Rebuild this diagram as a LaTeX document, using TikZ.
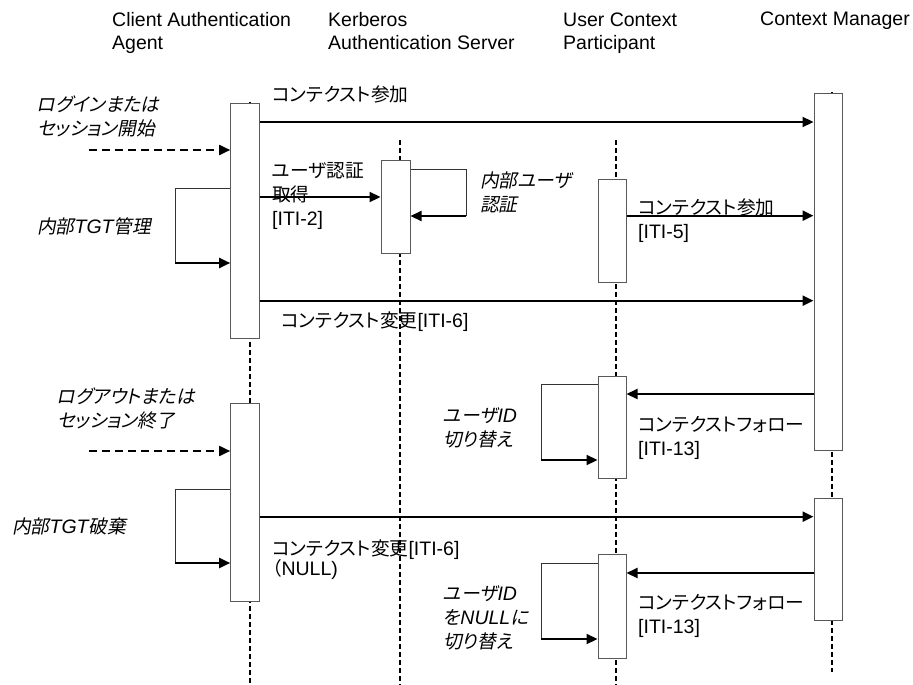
\documentclass[tikz,border=0pt]{standalone}
\usepackage{fontspec}
\setmainfont{Liberation Sans}
\newfontfamily\jpfont[RawFeature=+palt,Scale=0.96]{Noto Sans CJK JP}
\newfontfamily\jpslant[RawFeature=+palt,FakeSlant=0.2,Scale=0.96]{Noto Sans CJK JP}
\newcommand\jtxt[1]{{\jpfont #1}}
\newcommand\jit[1]{{\jpslant #1}}
\usetikzlibrary{arrows.meta}

\begin{document}
\begin{tikzpicture}[x=1pt,y=-1pt,
  lbl/.style={anchor=base west, inner sep=0pt, align=left,
    font=\fontsize{19.5}{24}\selectfont},
  actbox/.style={draw=black!65, line width=1pt, fill=white,
    minimum width=29pt, inner sep=0pt},
  life/.style={line width=1.8pt, dash pattern=on 5pt off 3pt},
  tip/.style={-{Triangle[length=11pt,width=10pt]}},
  msg/.style={line width=2.2pt, tip},
  trigger/.style={line width=1.8pt, dash pattern=on 8pt off 5pt, tip},
  selfline/.style={line width=1pt, draw=black!80},
]
\useasboundingbox (0,0) rectangle (913,685);

% participant headings (base anchor sits on the last line)
\node[lbl] (hcaa) at (112,50) {Client Authentication\\Agent};
\node[lbl] (hker) at (328,50) {Kerberos\\Authentication Server};
\node[lbl] (hucp) at (563,50) {User Context\\Participant};
\node[lbl] (hcm)  at (760,26) {Context Manager};

% lifelines
\coordinate (caaT) at (250,102);  \coordinate (caaB) at (250,683);
\coordinate (kerT) at (400,140);  \coordinate (kerB) at (400,685);
\coordinate (ucpT) at (616,140);  \coordinate (ucpB) at (616,685);
\coordinate (cmT)  at (832,92);   \coordinate (cmB)  at (832,672);
\draw[life] (caaT) -- (caaB);
\draw[life] (kerT) -- (kerB);
\draw[life] (ucpT) -- (ucpB);
\draw[life] (cmT) -- (cmB);

% activation bars
\node[actbox, minimum height=235pt] (caa1) at (245.2,220.5) {};
\node[actbox, minimum height=198pt] (caa2) at (245.2,502) {};
\node[actbox, minimum height=93pt]  (ker1) at (395.5,206.5) {};
\node[actbox, minimum width=28pt, minimum height=103pt] (ucp1) at (612,230.5) {};
\node[actbox, minimum width=28pt, minimum height=102pt] (ucp2) at (612,427) {};
\node[actbox, minimum width=28pt, minimum height=104pt] (ucp3) at (612,606) {};
\node[actbox, minimum width=28pt, minimum height=357pt] (cm1) at (828,271.5) {};
\node[actbox, minimum width=28pt, minimum height=122pt] (cm2) at (828,559) {};

% external triggers
\coordinate (in1) at (89,150);
\coordinate (in2) at (89,451);
\draw[trigger] (in1) -- (caa1.west |- in1);
\draw[trigger] (in2) -- (caa2.west |- in2);

% messages
\draw[msg] (caa1.east |- 0,122) -- (cm1.west |- 0,122);
\draw[msg] (caa1.east |- 0,197) -- (ker1.west |- 0,197);
\draw[msg] (ucp1.east |- 0,215.7) -- (cm1.west |- 0,215.7);
\draw[msg] (caa1.east |- 0,300.7) -- (cm1.west |- 0,300.7);
\draw[msg] (cm1.west |- 0,394) -- (ucp2.east |- 0,394);
\draw[msg] (caa2.east |- 0,516.7) -- (cm2.west |- 0,516.7);
\draw[msg] (cm2.west |- 0,573) -- (ucp3.east |- 0,573);

% self calls
\coordinate (l1) at (175,263);
\draw[selfline] (caa1.west |- 0,188) -| (l1);
\draw[msg] (l1) -- (caa1.west |- l1);
\coordinate (l2) at (466,216);
\draw[selfline] (ker1.east |- 0,169) -| (l2);
\draw[msg] (l2) -- (ker1.east |- l2);
\coordinate (l3) at (175,563);
\draw[selfline] (caa2.west |- 0,489) -| (l3);
\draw[msg] (l3) -- (caa2.west |- l3);
\coordinate (l4) at (541,460);
\draw[selfline] (ucp2.west |- 0,384) -| (l4);
\draw[msg] (l4) -- (ucp2.west |- l4);
\coordinate (l5) at (541,639);
\draw[selfline] (ucp3.west |- 0,563) -| (l5);
\draw[msg] (l5) -- (ucp3.west |- l5);

% labels (base anchor sits on the last line)
\node[lbl] (t1)  at (272,101) {\jtxt{コンテクスト参加}};
\node[lbl] (t2)  at (37,135)  {\jit{ログインまたは}\\\jit{セッション開始}};
\node[lbl] (t3)  at (272,225) {\jtxt{ユーザ認証}\\\jtxt{取得}\\{}[ITI-2]};
\node[lbl] (t4)  at (37,233)  {\jit{内部}{\itshape TGT}\jit{管理}};
\node[lbl] (t5)  at (480,211) {\jit{内部ユーザ}\\\jit{認証}};
\node[lbl] (t6)  at (638,238) {\jtxt{コンテクスト参加}\\{}[ITI-5]};
\node[lbl] (t7)  at (281,327) {\jtxt{コンテクスト変更}[ITI-6]};
\node[lbl] (t8)  at (57,427)  {\jit{ログアウトまたは}\\\jit{セッション終了}};
\node[lbl] (t9)  at (12,533)  {\jit{内部}{\itshape TGT}\jit{破棄}};
\node[lbl] (t10) at (272,575) {\jtxt{コンテクスト変更}[ITI-6]\\[-4pt]\jtxt{（}NULL)};
\node[lbl] (t11) at (443,446) {\jit{ユーザ}{\itshape ID}\\\jit{切り替え}};
\node[lbl] (t12) at (638,455) {\jtxt{コンテクストフォロー}\\{}[ITI-13]};
\node[lbl] (t13) at (443,648) {\jit{ユーザ}{\itshape ID}\\\jit{を}{\itshape NULL}\jit{に}\\\jit{切り替え}};
\node[lbl] (t14) at (638,633) {\jtxt{コンテクストフォロー}\\{}[ITI-13]};
\end{tikzpicture}
\end{document}
